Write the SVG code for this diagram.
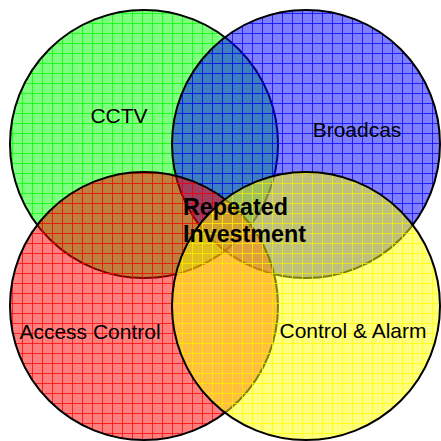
<svg xmlns="http://www.w3.org/2000/svg" width="441" height="441" viewBox="0 0 441 441">
<style>
.c{stroke:#000;stroke-width:2}
.lbl{font-family:"Liberation Sans",Arial,sans-serif;font-size:21px;fill:#000;text-anchor:middle}
.big{font-family:"Liberation Sans",Arial,sans-serif;font-size:23.3px;font-weight:bold;fill:#000}
</style>
<defs>
<pattern id="pg" patternUnits="userSpaceOnUse" x="2" y="3" width="10" height="10">
<rect width="10" height="10" fill="#00ff00" fill-opacity="0.5"/>
<path d="M0 0.5H10M0.5 0V10" stroke="#00ff00" stroke-width="1" stroke-opacity="0.75"/>
</pattern>
<pattern id="pb" patternUnits="userSpaceOnUse" x="2" y="3" width="10" height="10">
<rect width="10" height="10" fill="#0000ff" fill-opacity="0.5"/>
<path d="M0 0.5H10M0.5 0V10" stroke="#0000ff" stroke-width="1" stroke-opacity="0.75"/>
</pattern>
<pattern id="pr" patternUnits="userSpaceOnUse" x="2" y="3" width="10" height="10">
<rect width="10" height="10" fill="#ff0000" fill-opacity="0.5"/>
<path d="M0 0.5H10M0.5 0V10" stroke="#ff0000" stroke-width="1" stroke-opacity="0.75"/>
</pattern>
<pattern id="py" patternUnits="userSpaceOnUse" x="2" y="3" width="10" height="10">
<rect width="10" height="10" fill="#ffff00" fill-opacity="0.5"/>
<path d="M0 0.5H10M0.5 0V10" stroke="#ffff00" stroke-width="1" stroke-opacity="0.75"/>
</pattern>
</defs>
<rect width="441" height="441" fill="#fff"/>
<g id="cctv">
<circle class="c" cx="144" cy="144" r="134" fill="url(#pg)"/>
<text class="lbl" x="119" y="123">CCTV</text>
</g>
<g id="broadcast">
<circle class="c" cx="306" cy="144" r="134" fill="url(#pb)"/>
<text class="lbl" x="357" y="137">Broadcas</text>
</g>
<g id="access-control">
<circle class="c" cx="144" cy="306" r="134" fill="url(#pr)"/>
<text class="lbl" x="90" y="339">Access Control</text>
</g>
<g id="control-alarm">
<circle class="c" cx="306" cy="306" r="134" fill="url(#py)"/>
<text class="lbl" x="353" y="338">Control &amp; Alarm</text>
</g>
<g id="repeated-investment">
<text class="big" x="183" y="215">Repeated</text>
<text class="big" x="183" y="242">Investment</text>
</g>
<g id="connectors"/>
</svg>
